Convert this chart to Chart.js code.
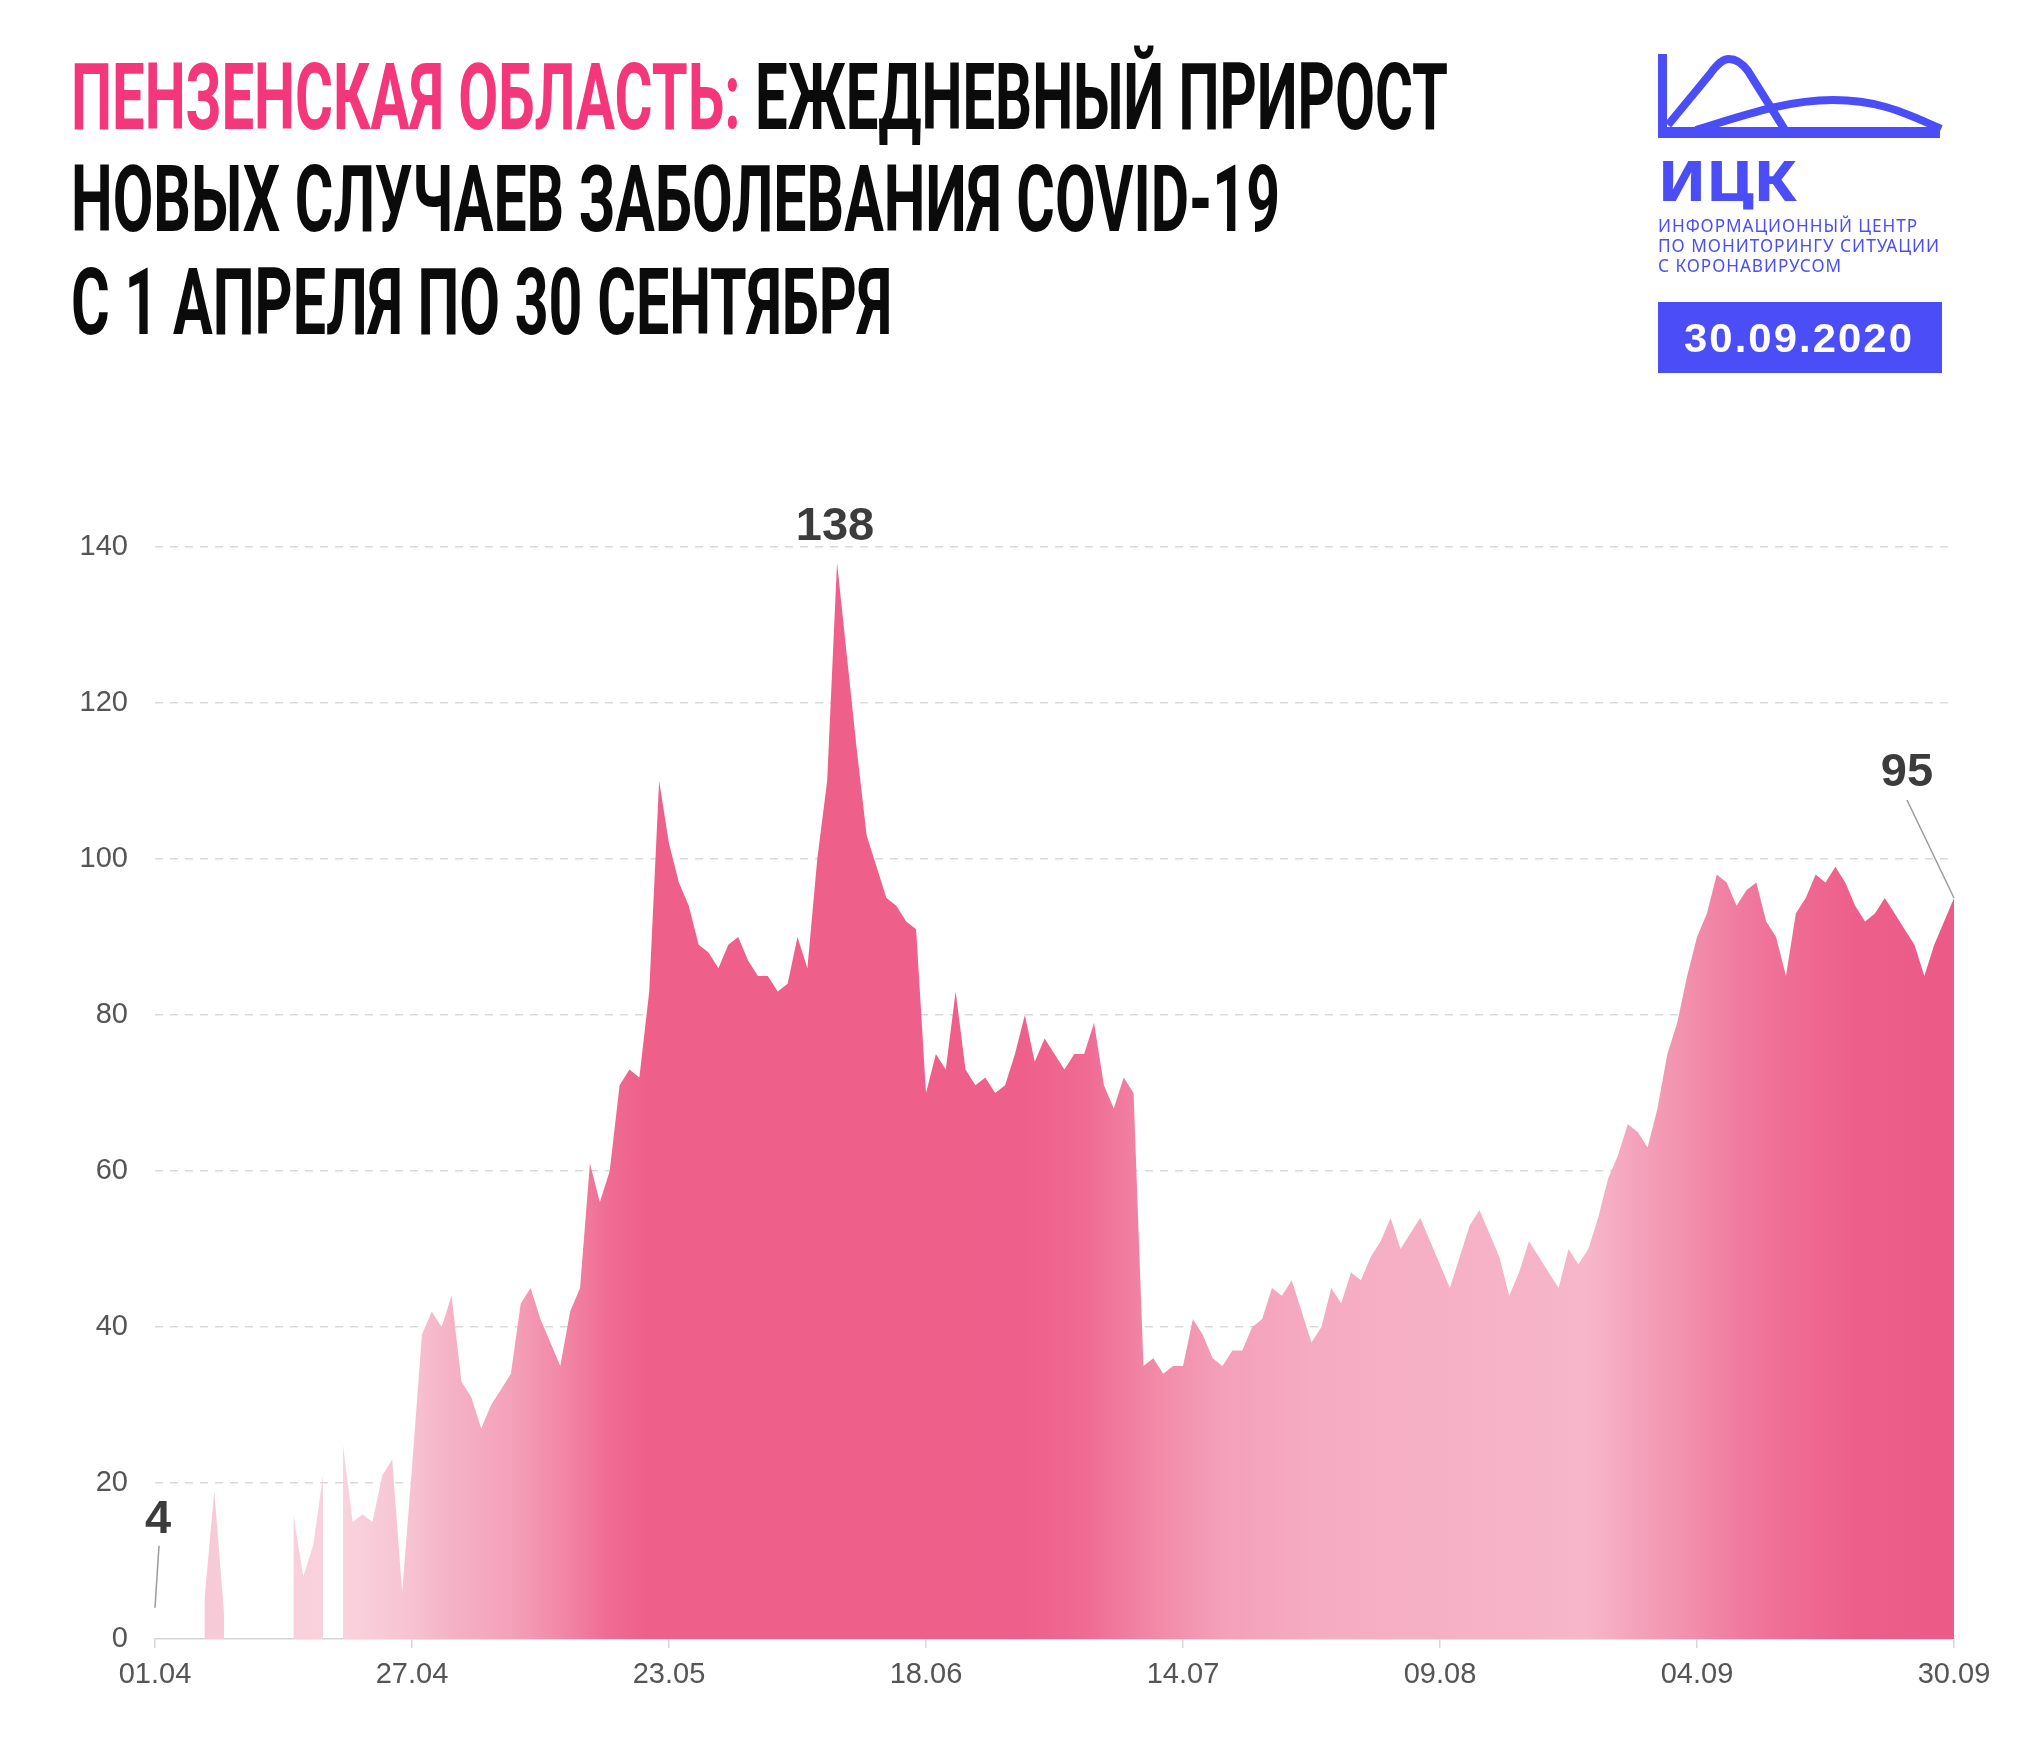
<!DOCTYPE html>
<html lang="ru">
<head>
<meta charset="utf-8">
<title>Пензенская область: ежедневный прирост COVID-19</title>
<script src="https://cdn.jsdelivr.net/npm/chart.js@4.4.1/dist/chart.umd.min.js"></script>
<style>
  html, body { margin: 0; padding: 0; background: #fff; }
  #page { position: relative; width: 2037px; height: 1744px; overflow: hidden; }
  #chart { position: absolute; left: 0; top: 0; }
  .fit { position: absolute; white-space: nowrap; line-height: 1; transform-origin: 0 0; }
  .title { font-family: Roboto, 'Open Sans', sans-serif; font-weight: 700; font-size: 93px; color: #0b0b0b; left: 71px; }
  .title .hl { color: #f3377a; }
  .logo { color: #4b4ef6; font-family: 'Noto Sans', 'Open Sans', sans-serif; }
  .logo-big { font-weight: 800; font-size: 56px; }
  .logo-small { font-size: 18px; letter-spacing: 1px; }
  #datebox { position: absolute; left: 1658px; top: 302px; width: 284px; height: 71px; background: #4b4ef6; }
  .date { font-family: 'Liberation Sans', Arial, sans-serif; font-weight: 700; font-size: 40px; color: #fff; letter-spacing: 2px; }
</style>
</head>
<body>
<div id="page">
  <canvas id="chart" width="2037" height="1744"></canvas>

  <div class="fit title" data-w="1377" style="top:51px"><span class="hl">ПЕНЗЕНСКАЯ ОБЛАСТЬ:</span> ЕЖЕДНЕВНЫЙ ПРИРОСТ</div>
  <div class="fit title" data-w="1209" style="top:153px">НОВЫХ СЛУЧАЕВ ЗАБОЛЕВАНИЯ COVID-19</div>
  <div class="fit title" data-w="821" style="top:256px">С 1 АПРЕЛЯ ПО 30 СЕНТЯБРЯ</div>

  <svg style="position:absolute;left:1658px;top:54px" width="285" height="86" viewBox="0 0 285 86">
    <g fill="#4b4ef6">
      <rect x="0" y="0" width="9" height="84"/>
      <rect x="0" y="73" width="282" height="11"/>
    </g>
    <g fill="none" stroke="#4b4ef6" stroke-width="8">
      <path d="M10,71 L52,20 C60,9 65,5 71,5 C78,5 84,9 90,17 L127,76"/>
      <path d="M38,76 C90,60 130,46 175,46 C215,46 240,55 283,75"/>
    </g>
  </svg>
  <div class="fit logo logo-big" data-w="139" style="left:1658px;top:151px">ИЦК</div>
  <div class="fit logo logo-small" data-w="260" style="left:1658px;top:216px">ИНФОРМАЦИОННЫЙ ЦЕНТР</div>
  <div class="fit logo logo-small" data-w="282" style="left:1658px;top:236px">ПО МОНИТОРИНГУ СИТУАЦИИ</div>
  <div class="fit logo logo-small" data-w="184" style="left:1658px;top:256px">С КОРОНАВИРУСОМ</div>
  <div id="datebox"></div>
  <div class="fit date" data-w="230" style="left:1684px;top:318px">30.09.2020</div>
</div>

<script>
// new cases per day, 01.04 - 30.09 (null = no data)
const aprilCases = [4, null, null, null, null, 5, 19, 3, null, null, null, null, null, null,
  16, 8, 12, 21, null, 25, 15, 16, 15, 21, 23, 6, 22, 39, 42, 40];
const mayCases = [44, 33, 31, 27, 30, 32, 34, 43, 45, 41, 38, 35, 42, 45, 61, 56, 60, 71, 73, 72,
  83, 110, 102, 97, 94, 89, 88, 86, 89, 90, 87];
const juneCases = [85, 85, 83, 84, 90, 86, 100, 110, 138, 126, 114, 103, 99, 95, 94, 92, 91, 70,
  75, 73, 83, 73, 71, 72, 70, 71, 75, 80, 74, 77];
const julyCases = [75, 73, 75, 75, 79, 71, 68, 72, 70, 35, 36, 34, 35, 35, 41, 39, 36, 35, 37, 37,
  40, 41, 45, 44, 46, 42, 38, 40, 45, 43, 47];
const augustCases = [46, 49, 51, 54, 50, 52, 54, 51, 48, 45, 49, 53, 55, 52, 49, 44, 47, 51, 49,
  47, 45, 50, 48, 50, 54, 59, 62, 66, 65, 63, 68];
const septemberCases = [75, 79, 85, 90, 93, 98, 97, 94, 96, 97, 92, 90, 85, 93, 95, 98, 97, 99,
  97, 94, 92, 93, 95, 93, 91, 89, 85, 89, 92, 95];

const tickLabels = ['01.04', '27.04', '23.05', '18.06', '14.07', '09.08', '04.09', '30.09'];

const cases = [...aprilCases, ...mayCases, ...juneCases, ...julyCases, ...augustCases, ...septemberCases];
const points = cases.map((v, i) => ({ x: i, y: v }));

// fill colour along the time axis: [day index, colour]
const fillStops = [
  [0, '#f7c6d5'], [19, '#f9d3de'], [26, '#f7c2d2'], [30, '#f5b2c6'], [36, '#f4a1ba'],
  [41, '#f288a7'], [46, '#ef6b93'], [50, '#ee5f8a'], [88, '#ee608b'], [94, '#ef6a92'],
  [98, '#f07c9f'], [102, '#f28ca9'], [108, '#f4a0ba'], [118, '#f5acc2'], [135, '#f6b2c7'],
  [145, '#f7b6ca'], [150, '#f4a2bb'], [155, '#f290ad'], [160, '#f07ca0'], [165, '#ef6d95'],
  [172, '#ed5f8a'], [182, '#ec5a87']
];

// value labels: offsets in px from the point
const callouts = [
  { day: 0, dx: 3, dy: -75, line: [4, -62] },
  { day: 69, dx: -2, dy: -23 },
  { day: 182, dx: -47, dy: -112, line: [-47, -98] }
];

const calloutPlugin = {
  id: 'callouts',
  afterDatasetsDraw(chart) {
    const { ctx, scales: { x, y } } = chart;
    ctx.save();
    callouts.forEach(c => {
      const px = x.getPixelForValue(c.day);
      const py = y.getPixelForValue(cases[c.day]);
      if (c.line) {
        ctx.strokeStyle = '#9b9b9b';
        ctx.lineWidth = 1.5;
        ctx.beginPath();
        ctx.moveTo(px + c.line[0], py + c.line[1]);
        ctx.lineTo(px, py);
        ctx.stroke();
      }
      ctx.fillStyle = '#3c3c3c';
      ctx.font = 'bold 47px "Liberation Sans", Arial, sans-serif';
      ctx.textAlign = 'center';
      ctx.textBaseline = 'alphabetic';
      ctx.fillText(String(cases[c.day]), px + c.dx, py + c.dy);
    });
    ctx.restore();
  }
};

function areaGradient(context) {
  const chart = context.chart;
  const area = chart.chartArea;
  if (!area) return fillStops[0][1];
  const xs = chart.scales.x;
  const g = chart.ctx.createLinearGradient(area.left, 0, area.right, 0);
  fillStops.forEach(([d, col]) => {
    g.addColorStop((xs.getPixelForValue(d) - area.left) / (area.right - area.left), col);
  });
  return g;
}

const tickFont = { family: '"Liberation Sans", Arial, sans-serif', size: 29 };

new Chart(document.getElementById('chart').getContext('2d'), {
  type: 'line',
  data: {
    datasets: [{
      data: points,
      fill: 'origin',
      backgroundColor: areaGradient,
      borderWidth: 0,
      pointRadius: 0,
      tension: 0,
      spanGaps: false
    }]
  },
  options: {
    responsive: false,
    animation: false,
    devicePixelRatio: 1,
    layout: { padding: { top: 547, right: 83, left: 0, bottom: 0 } },
    plugins: { legend: { display: false }, tooltip: { enabled: false } },
    scales: {
      x: {
        type: 'linear',
        min: 0,
        max: 182,
        afterFit: s => { s.height = 105; },
        ticks: {
          stepSize: 26,
          autoSkip: false,
          maxRotation: 0,
          padding: 10,
          color: '#555',
          font: tickFont,
          callback: v => tickLabels[v / 26] ?? ''
        },
        grid: { drawOnChartArea: false, drawTicks: true, tickLength: 9, color: '#d6d6d6', lineWidth: 1.5 },
        border: { display: true, color: '#d6d6d6', width: 1.5 }
      },
      y: {
        min: 0,
        max: 140,
        afterFit: s => { s.width = 155; },
        ticks: { stepSize: 20, padding: 27, color: '#555', font: tickFont },
        grid: {
          drawTicks: false,
          lineWidth: 1.5,
          color: c => (c.tick && c.tick.value === 0 ? 'rgba(0,0,0,0)' : '#dadada')
        },
        border: { display: false, dash: [8, 7] }
      }
    }
  },
  plugins: [calloutPlugin]
});

// squeeze/stretch header texts to the measured widths
document.querySelectorAll('.fit').forEach(el => {
  const w = el.getBoundingClientRect().width;
  el.style.transform = 'scaleX(' + (Number(el.dataset.w) / w) + ')';
});
</script>
</body>
</html>
